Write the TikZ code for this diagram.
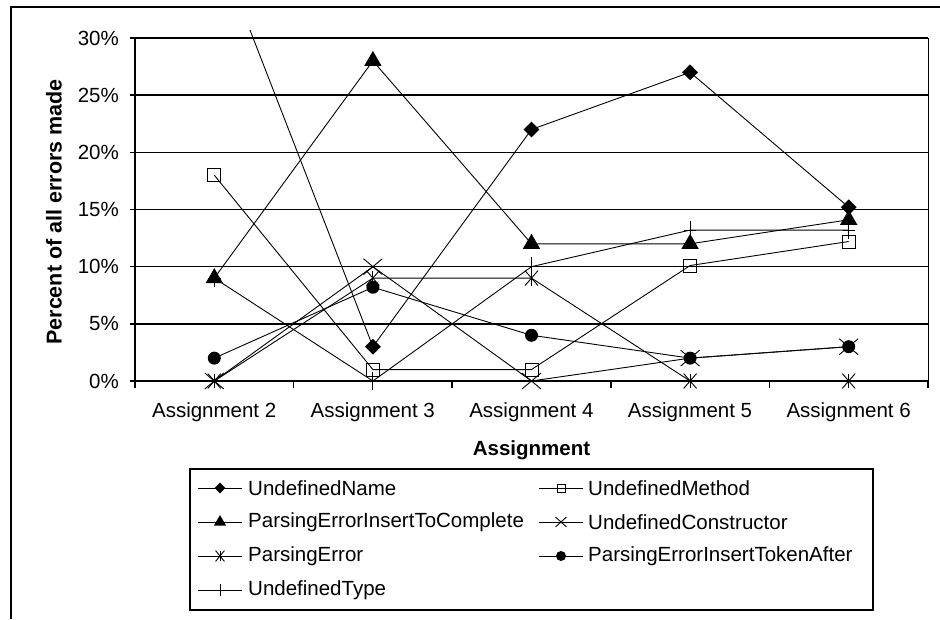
\documentclass[tikz,border=0pt]{standalone}
\usepackage{fontspec}
\setmainfont{Liberation Sans}
\usetikzlibrary{shapes.geometric,shapes.misc,backgrounds}

\tikzset{
  grid line/.style={line width=1.6pt},
  series/.style={line width=0.9pt},
  undname/.style={diamond, fill, inner sep=0pt, minimum size=16pt},
  undmethod/.style={rectangle, draw, line width=1pt, inner sep=0pt, minimum size=13pt},
  inscomplete/.style={regular polygon, regular polygon sides=3, fill, inner sep=0pt, minimum size=20pt},
  undcons/.style={cross out, draw, line width=0.9pt, inner sep=0pt, minimum width=18pt, minimum height=15pt},
  parserr/.style={cross out, draw, line width=0.9pt, inner sep=0pt, minimum width=12pt, minimum height=14pt,
    append after command={(\tikzlastnode.north) edge[line width=0.9pt] (\tikzlastnode.south)}},
  tokenafter/.style={circle, fill, inner sep=0pt, minimum size=13pt},
  undtype/.style={inner sep=0pt, minimum width=12pt, minimum height=18pt,
    append after command={(\tikzlastnode.north) edge[line width=0.9pt] (\tikzlastnode.south)
      (\tikzlastnode.west) edge[line width=0.9pt] (\tikzlastnode.east)}},
  ticklabel/.style={inner sep=0pt, font=\fontsize{20.5}{24}\selectfont},
  axistitle/.style={inner sep=0pt, font=\fontsize{20.5}{24}\selectfont\bfseries},
  legendtext/.style={anchor=west, inner sep=0pt, font=\fontsize{20.5}{24}\selectfont}
}

\begin{document}
\begin{tikzpicture}[x=1pt,y=1pt]
  \useasboundingbox (0,0) rectangle (940,619);
  % page frame
  \draw[line width=1.6pt] (11,0) -- (11,612) -- (940,612);

  % grid, axes and ticks
  \begin{scope}[on background layer]
    \foreach \p in {0,5,...,30}
      \draw[grid line] (130,238+\p*11.433) -- (928,238+\p*11.433);
    \foreach \k in {0,...,5}
      \draw[grid line] (135+\k*158.6,238) -- (135+\k*158.6,231);
    \draw[grid line] (135,238) -- (135,581);
    \draw[line width=0.9pt] (928,238) -- (928,581);
  \end{scope}
  \foreach \p in {0,5,...,30}
    \node[ticklabel, anchor=east] (y\p) at (119,238+\p*11.433) {\p\%};
  \foreach \k in {2,...,6}
    \node[ticklabel] (a\k) at (135+\k*158.6-238,207) {Assignment \k};
  \node[axistitle] (xtitle) at (531.5,169) {Assignment};
  \node[axistitle, font=\fontsize{21.5}{24}\selectfont\bfseries, rotate=90] (ytitle) at (54,407) {Percent of all errors made};

  % data
  \begin{scope}[shift={(135pt,238pt)}, x=158.6pt, y=11.433pt]
    \coordinate (un2) at (0.725,30.7);
    \node[undname] (un3) at (1.5,3) {};
    \node[undname] (un4) at (2.5,22) {};
    \node[undname] (un5) at (3.5,27) {};
    \node[undname] (un6) at (4.5,15.2) {};

    \node[undmethod] (um2) at (0.5,18) {};
    \node[undmethod] (um3) at (1.5,1) {};
    \node[undmethod] (um4) at (2.5,1) {};
    \node[undmethod] (um5) at (3.5,10.1) {};
    \node[undmethod] (um6) at (4.5,12.2) {};

    \node[inscomplete] (ic2) at (0.5,9) {};
    \node[inscomplete] (ic3) at (1.5,28) {};
    \node[inscomplete] (ic4) at (2.5,12) {};
    \node[inscomplete] (ic5) at (3.5,12) {};
    \node[inscomplete] (ic6) at (4.5,14.1) {};

    \node[undcons] (uc2) at (0.5,0) {};
    \node[undcons] (uc3) at (1.5,10) {};
    \node[undcons] (uc4) at (2.5,0) {};
    \node[undcons] (uc5) at (3.5,2) {};
    \node[undcons] (uc6) at (4.5,3) {};

    \node[parserr] (pe2) at (0.5,0) {};
    \node[parserr] (pe3) at (1.5,9) {};
    \node[parserr] (pe4) at (2.5,9) {};
    \node[parserr] (pe5) at (3.5,0) {};
    \node[parserr] (pe6) at (4.5,0) {};

    \node[tokenafter] (ta2) at (0.5,2) {};
    \node[tokenafter] (ta3) at (1.5,8.2) {};
    \node[tokenafter] (ta4) at (2.5,4) {};
    \node[tokenafter] (ta5) at (3.5,2) {};
    \node[tokenafter] (ta6) at (4.5,3) {};

    \node[undtype] (ut2) at (0.5,9) {};
    \node[undtype] (ut3) at (1.5,0) {};
    \node[undtype] (ut4) at (2.5,10) {};
    \node[undtype] (ut5) at (3.5,13.2) {};
    \node[undtype] (ut6) at (4.5,13.2) {};
  \end{scope}

  \begin{scope}[on background layer]
    \draw[series] (un2) -- (un3.center) -- (un4.center) -- (un5.center) -- (un6.center);
    \draw[series] (um2.center) -- (um3.center) -- (um4.center) -- (um5.center) -- (um6.center);
    \draw[series] (ic2.center) -- (ic3.center) -- (ic4.center) -- (ic5.center) -- (ic6.center);
    \draw[series] (uc2.center) -- (uc3.center) -- (uc4.center) -- (uc5.center) -- (uc6.center);
    \draw[series] (pe2.center) -- (pe3.center) -- (pe4.center) -- (pe5.center) -- (pe6.center);
    \draw[series] (ta2.center) -- (ta3.center) -- (ta4.center) -- (ta5.center) -- (ta6.center);
    \draw[series] (ut2.center) -- (ut3.center) -- (ut4.center) -- (ut5.center) -- (ut6.center);
  \end{scope}

  % legend
  \draw[line width=1.6pt] (190,9) rectangle (873,150);
  \node[undname, minimum size=11pt] (lg1) at (220,131) {};
  \node[legendtext] (lt1) at (248,131) {UndefinedName};
  \node[undmethod, minimum size=8pt, line width=0.9pt] (lg2) at (561,131) {};
  \node[legendtext] (lt2) at (588,131) {UndefinedMethod};
  \node[inscomplete, minimum size=14pt] (lg3) at (220,97) {};
  \node[legendtext] (lt3) at (248,97) {ParsingErrorInsertToComplete};
  \node[undcons, minimum width=10pt, minimum height=9pt] (lg4) at (561,97) {};
  \node[legendtext] (lt4) at (588,97) {UndefinedConstructor};
  \node[parserr, minimum width=8pt, minimum height=10pt] (lg5) at (220,63) {};
  \node[legendtext] (lt5) at (248,63) {ParsingError};
  \node[tokenafter, minimum size=10pt] (lg6) at (561,63) {};
  \node[legendtext] (lt6) at (588,63) {ParsingErrorInsertTokenAfter};
  \node[undtype, minimum width=8pt, minimum height=12pt] (lg7) at (220,29) {};
  \node[legendtext] (lt7) at (248,29) {UndefinedType};
  \begin{scope}[on background layer]
    \foreach \n in {lg1,lg2,lg3,lg4,lg5,lg6,lg7}
      \draw[series] ([xshift=-22pt]\n.center) -- ([xshift=22pt]\n.center);
  \end{scope}
\end{tikzpicture}
\end{document}
